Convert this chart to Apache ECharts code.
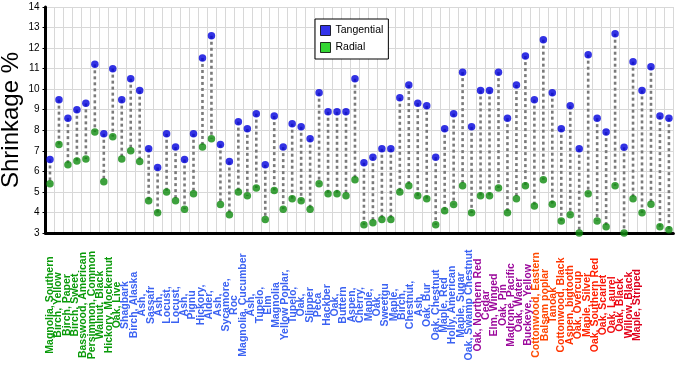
<!DOCTYPE html>
<html>
<head>
<meta charset="utf-8">
<script src="https://cdn.jsdelivr.net/npm/echarts@6/dist/echarts.min.js"></script>
<style>
html,body{margin:0;padding:0;background:#fff;}
#chart{width:679px;height:371px;}
</style>
</head>
<body>
<div id="chart"></div>
<script>
// Tick labels along the bottom (71 labels as printed in the reference)
var labels = [
 "Magnolia, Southern","Birch, Yellow","Birch, Paper","Birch, Sweet","Basswood, American",
 "Persimmon, Common","Walnut, Black","Hickory, Mockernut","Oak, Live","Shagbark",
 "Birch, Alaska","Ash,","Sassafr","Ash,","Locust,","Locust,","Ash,","Pignu","Hickory,",
 "Alder,","Ash,","Sycamore,","Roc","Magnolia, Cucumber","Ash,","Tupelo,","Elm","Magnolia",
 "Yellow Poplar,","Tupelo,","Oak,","Slipper","Peca","Hackber","Oak,","Buttern","Aspen,",
 "Cherry,","Maple,","Oak,","Sweetgu","Maple,","Birch,","Chestnut,","Ash,","Oak, Bur",
 "Oak, Chestnut","Maple, Red","Holly, American","Maple, Sugar","Oak, Swamp Chestnut",
 "Oak, Northern Red","Cedar","Elm, Winged","Oak, Pin","Madrone, Pacific","Oak, Water",
 "Buckeye, Yellow","Cottonwood, Eastern","Balsam poplar","Tanoak","Cottonwood, Black",
 "Aspen, bigtooth","Oak, Overcup","Maple, Silver","Oak, Southern Red","Oak, Scarlet",
 "Oak, Laurel","Oak, Black","Willow, Black","Maple, Striped"
];
// Series values (70 points)
var tangential = [6.58,9.49,8.59,9.0,9.31,11.21,7.83,11.0,9.49,10.51,
 9.93,7.1,6.19,7.83,7.18,6.58,7.83,11.52,12.6,7.31,
 6.48,8.42,8.07,8.81,6.32,8.69,7.18,8.32,8.17,7.59,
 9.83,8.9,8.9,8.9,10.51,6.42,6.69,7.1,7.1,9.58,
 10.2,9.32,9.19,6.69,8.07,8.81,10.83,8.17,9.94,9.94,
 10.83,8.59,10.2,11.61,9.49,12.41,9.83,8.07,9.19,7.1,
 11.68,8.59,7.91,12.7,7.17,11.34,9.94,11.09,8.69,8.59];
var radial = [5.40,7.31,6.32,6.5,6.6,7.91,5.49,7.69,6.6,7.0,
 6.48,4.57,3.98,4.99,4.57,4.16,4.91,7.18,7.59,4.39,
 3.89,4.99,4.81,5.19,3.66,5.07,4.16,4.67,4.57,4.16,
 5.40,4.91,4.91,4.81,5.59,3.4,3.5,3.66,3.66,4.99,
 5.3,4.81,4.67,3.4,4.08,4.39,5.3,3.98,4.81,4.81,
 5.19,3.98,4.67,5.3,4.32,5.59,4.4,3.59,3.89,3.0,
 4.91,3.59,3.3,5.3,3.0,4.67,3.98,4.4,3.3,3.16];
var yTicks = {min: 3, max: 14, interval: 1};

// label colour groups (style only)
var greenEnd = 9, blueEnd = 51, purpleEnd = 58;
var redShades = ['#ff4a00','#ff4400','#ff3c00','#ff3600','#ff3000','#ff2a00','#ff2400',
                 '#ff1e00','#f81408','#f00c10','#ea0614','#e40018','#de001e'];
function labelColor(v, i){
  if (i < greenEnd) return '#0a9a0a';
  if (i < blueEnd) return '#3b62f2';
  if (i < purpleEnd) return '#9c0a9c';
  return redShades[Math.min(i - purpleEnd, redShades.length - 1)];
}

var cats = labels.slice(0, tangential.length);
var connectors = tangential.map(function(t, i){ return [i, t, radial[i]]; });

var chart = echarts.init(document.getElementById('chart'), null, {renderer:'canvas'});
chart.setOption({
  backgroundColor: '#fff',
  animation: false,
  grid: [
    {left: 45.5, right: 5.6, top: 7, bottom: 138, containLabel: false, outerBoundsMode: 'none'},
    {left: 45.8, right: 37.8, top: 7, bottom: 138, containLabel: false, outerBoundsMode: 'none'}
  ],
  legend: {
    orient: 'vertical', left: 315, top: 19,
    padding: [6, 5, 6, 5],
    backgroundColor: '#fff', borderColor: '#000', borderWidth: 1, borderRadius: 0,
    itemWidth: 10, itemHeight: 10, itemGap: 6, itemTextGap: 4,
    textStyle: {fontFamily: 'Liberation Sans', fontSize: 10.5, color: '#000', lineHeight: 11},
    data: [
      {name: 'Tangential', icon: 'rect', itemStyle: {color: '#0000e6', borderColor: '#000', borderWidth: 1}},
      {name: 'Radial', icon: 'rect', itemStyle: {color: '#00cc00', borderColor: '#000', borderWidth: 1}}
    ]
  },
  xAxis: [
    {
      type: 'category', gridIndex: 0, data: cats, boundaryGap: true,
      axisLine: {show: true, lineStyle: {color: '#000', width: 3}},
      axisTick: {show: false},
      axisLabel: {show: false},
      splitLine: {show: true, interval: 0, lineStyle: {color: '#d8d8d8', width: 1}}
    },
    {
      type: 'category', gridIndex: 1, data: labels, boundaryGap: true,
      axisLine: {show: false}, axisTick: {show: false}, splitLine: {show: false},
      axisLabel: {
        show: true, interval: 0, rotate: 90, margin: 72,
        align: 'center', verticalAlign: 'middle',
        fontFamily: 'Liberation Sans', fontWeight: 'bold', fontSize: 10.5,
        color: labelColor
      }
    }
  ],
  yAxis: [
    {
      type: 'value', gridIndex: 0, min: yTicks.min, max: yTicks.max, interval: yTicks.interval,
      name: 'Shrinkage %', nameLocation: 'middle', nameGap: 22, nameMoveOverlap: false,
      nameTextStyle: {fontFamily: 'Liberation Sans', fontSize: 24, color: '#000'},
      axisLine: {show: true, lineStyle: {color: '#000', width: 3}},
      axisTick: {show: true, length: 3, lineStyle: {color: '#000', width: 1}},
      axisLabel: {fontFamily: 'Liberation Sans', fontSize: 10, color: '#000', margin: 6},
      splitLine: {show: true, lineStyle: {color: '#d8d8d8', width: 1}}
    },
    {type: 'value', gridIndex: 1, show: false, min: 0, max: 1}
  ],
  series: [
    {
      type: 'custom', name: 'link', xAxisIndex: 0, yAxisIndex: 0, z: 1,
      data: connectors, silent: true,
      encode: {x: 0, y: [1, 2]},
      renderItem: function(params, api){
        var p1 = api.coord([api.value(0), api.value(1)]);
        var p2 = api.coord([api.value(0), api.value(2)]);
        return {type: 'line', shape: {x1: p1[0], y1: p1[1], x2: p2[0], y2: p2[1]},
          style: {stroke: '#7a7a7a', lineWidth: 2.6, lineDash: [3, 3]}};
      }
    },
    {
      type: 'scatter', name: 'Tangential', xAxisIndex: 0, yAxisIndex: 0, z: 3,
      data: tangential, symbol: 'circle', symbolSize: 7.5,
      itemStyle: {color: '#0000dd'}
    },
    {
      type: 'scatter', name: 'Radial', xAxisIndex: 0, yAxisIndex: 0, z: 3,
      data: radial, symbol: 'circle', symbolSize: 7.5,
      itemStyle: {color: '#0c8a0c'}
    }
  ]
});
</script>
</body>
</html>
